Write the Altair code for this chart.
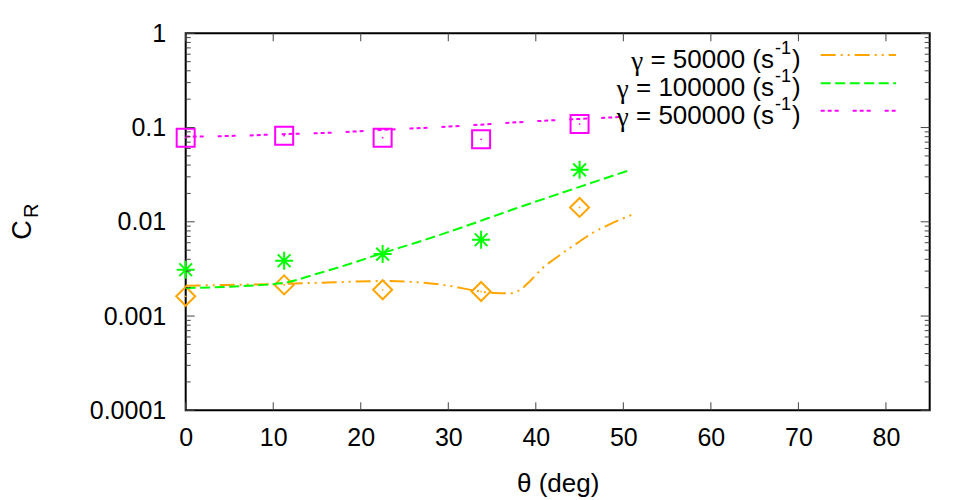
import altair as alt
import pandas as pd

# ---------------- data ----------------
theta_pts = [0, 11.25, 22.5, 33.75, 45]
cr_50000 = [0.00162, 0.00214, 0.0019, 0.00182, 0.0142]
cr_100000 = [0.0031, 0.00386, 0.00454, 0.00645, 0.0356]
cr_500000 = [0.078, 0.082, 0.078, 0.075, 0.109]

fit_theta_50000 = [0, 5, 11.25, 17, 22.5, 26.8, 30.6, 32.9, 35.9, 37.1, 38.2,
                   39.3, 40.8, 42.0, 43.6, 45.0, 46.5, 47.9, 49.6, 51.0]
fit_50000 = [0.00210, 0.00214, 0.00220, 0.00228, 0.00235, 0.00227, 0.00206,
             0.00187, 0.00175, 0.00175, 0.0019, 0.00233, 0.00325, 0.00395,
             0.00505, 0.00618, 0.00764, 0.0089, 0.0105, 0.0119]

fit_theta_100000 = [0, 5, 11.1, 15, 18.8, 22.5, 26.4, 30.2, 37.6, 45, 50.6]
fit_100000 = [0.00198, 0.00205, 0.00224, 0.00281, 0.00359, 0.00466, 0.00604,
              0.00789, 0.01374, 0.0235, 0.035]

fit_theta_500000 = [0, 5.5, 11.1, 16.8, 22.5, 30.2, 40, 50.8]
fit_500000 = [0.0802, 0.0816, 0.0851, 0.0884, 0.0944, 0.1026, 0.1168, 0.1306]

series_names = ["50000", "100000", "500000"]
legend_gamma = "γ"
legend_main = [" = 50000 (s", " = 100000 (s", " = 500000 (s"]
legend_sup = "-1"
legend_close = ")"

x_ticks = [0, 10, 20, 30, 40, 50, 60, 70, 80]
y_major = [0.0001, 0.001, 0.01, 0.1, 1]
y_minor = [m * d for d in [0.0001, 0.001, 0.01, 0.1] for m in range(2, 10)]

x_title = "θ (deg)"
y_title_main = "C"
y_title_sub = "R"

# ---------------- styling ----------------
W, H = 744, 377
FONT = "Liberation Sans"
LEG_FS = 26
colors = ["#FFA500", "#00FF00", "#FF00FF"]
dashes = [[15, 5, 2, 5, 2, 5], [10, 4.5], [4, 3, 4, 3, 4, 14]]
asterisk = "M-1,0L1,0M0,-1L0,1M-0.707,-0.707L0.707,0.707M-0.707,0.707L0.707,-0.707"
shapes = ["diamond", asterisk, "square"]
sizes = [361, 324, 324]

# Arial / Liberation Sans advance widths (em) for measuring legend strings
ADV = {" ": 0.278, "=": 0.584, "(": 0.333, "s": 0.5}
for d in "0123456789":
    ADV[d] = 0.556


def text_width(s, fs):
    return sum(ADV.get(c, 0.556) for c in s) * fs


xscale = alt.Scale(domain=[0, 85], nice=False, zero=False)
yscale = alt.Scale(type="log", domain=[0.0001, 1], nice=False)
xaxis = alt.Axis(values=x_ticks, title=x_title, labelPadding=15,
                 labelFlush=False, labelOverlap=False,
                 titleX=W / 2, titleY=73, titleBaseline="middle",
                 titleAlign="center")
yaxis = alt.Axis(values=y_major, format="~g", title=None,
                 labelPadding=20, labelFlush=False, labelOverlap=False)


def X(field):
    return alt.X(field, scale=xscale, axis=xaxis, title=x_title)


def Y(field):
    return alt.Y(field, scale=yscale, axis=yaxis, title=None)


layers = []

fits = [(fit_theta_50000, fit_50000), (fit_theta_100000, fit_100000),
        (fit_theta_500000, fit_500000)]
pts = [cr_50000, cr_100000, cr_500000]

for i in range(3):
    ft, fv = fits[i]
    dfl = pd.DataFrame({"theta": ft, "cr": fv})
    layers.append(
        alt.Chart(dfl).mark_line(color=colors[i], strokeDash=dashes[i],
                                 strokeWidth=2, interpolate="monotone").encode(
            x=X("theta:Q"), y=Y("cr:Q"))
    )
    dfp = pd.DataFrame({"theta": theta_pts, "cr": pts[i]})
    layers.append(
        alt.Chart(dfp).mark_point(shape=shapes[i], size=sizes[i], filled=False,
                                  color=colors[i], strokeWidth=2, opacity=1).encode(
            x=X("theta:Q"), y=Y("cr:Q"))
    )
    layers.append(
        alt.Chart(dfp).mark_point(shape="circle", size=3, filled=True,
                                  color=colors[i], opacity=1).encode(
            x=X("theta:Q"), y=Y("cr:Q"))
    )

# inward ticks (mirrored)
tick_col = "#444444"
dfx = pd.DataFrame({"theta": x_ticks})
for y0, y1 in [(H, H - 8), (0, 8)]:
    layers.append(alt.Chart(dfx).mark_rule(color=tick_col, strokeWidth=1).encode(
        x=X("theta:Q"), y=alt.value(y0), y2=alt.value(y1)))
dfym = pd.DataFrame({"cr": y_major})
dfyn = pd.DataFrame({"cr": y_minor})
for df_, ln in [(dfym, 9), (dfyn, 5)]:
    for x0, x1 in [(0, ln), (W, W - ln)]:
        layers.append(alt.Chart(df_).mark_rule(color=tick_col, strokeWidth=1).encode(
            y=Y("cr:Q"), x=alt.value(x0), x2=alt.value(x1)))

# legend
row_text_y = [26.7, 54.7, 82.2]
row_line_y = [21.7, 50, 77.4]
s_end = 588.3
for i in range(3):
    gx = s_end - text_width(legend_main[i], LEG_FS)
    layers.append(alt.Chart(pd.DataFrame({"t": [legend_gamma]})).mark_text(
        font="Liberation Serif", fontSize=LEG_FS + 1, align="right",
        baseline="middle", color="black").encode(
        text="t:N", x=alt.value(gx), y=alt.value(row_text_y[i] + 2)))
    layers.append(alt.Chart(pd.DataFrame({"t": [legend_main[i]]})).mark_text(
        font=FONT, fontSize=LEG_FS, align="right", baseline="middle",
        color="black").encode(
        text="t:N", x=alt.value(s_end), y=alt.value(row_text_y[i])))
    layers.append(alt.Chart(pd.DataFrame({"t": [legend_sup]})).mark_text(
        font=FONT, fontSize=18, align="left", baseline="middle", color="black").encode(
        text="t:N", x=alt.value(s_end + 1), y=alt.value(row_text_y[i] - 11)))
    layers.append(alt.Chart(pd.DataFrame({"t": [legend_close]})).mark_text(
        font=FONT, fontSize=LEG_FS, align="left", baseline="middle",
        color="black").encode(
        text="t:N", x=alt.value(s_end + 18), y=alt.value(row_text_y[i])))
    layers.append(alt.Chart(pd.DataFrame({"s": [series_names[i]]})).mark_rule(
        color=colors[i], strokeDash=dashes[i], strokeWidth=2).encode(
        x=alt.value(635), x2=alt.value(710.3), y=alt.value(row_line_y[i])))

# y title C_R (rotated)
layers.append(alt.Chart(pd.DataFrame({"t": [y_title_main]})).mark_text(
    font=FONT, fontSize=27, angle=270, align="center", baseline="middle",
    color="black").encode(text="t:N", x=alt.value(-162.5), y=alt.value(196.7)))
layers.append(alt.Chart(pd.DataFrame({"t": [y_title_sub]})).mark_text(
    font=FONT, fontSize=20, angle=270, align="center", baseline="middle",
    color="black").encode(text="t:N", x=alt.value(-154), y=alt.value(177.5)))

chart = alt.layer(*layers).properties(
    width=W, height=H,
    autosize=alt.AutoSizeParams(type="none"),
    padding={"left": 177.7, "top": 25.3, "right": 41, "bottom": 89},
).configure_view(stroke="black", strokeWidth=2).configure_axis(
    grid=False, domain=False, ticks=False, labelFont=FONT, labelFontSize=25,
    labelColor="black", titleFont=FONT, titleFontSize=26,
    titleFontWeight="normal", titleColor="black")

chart.save("out.html", embed_options={"renderer": "svg", "actions": False})
